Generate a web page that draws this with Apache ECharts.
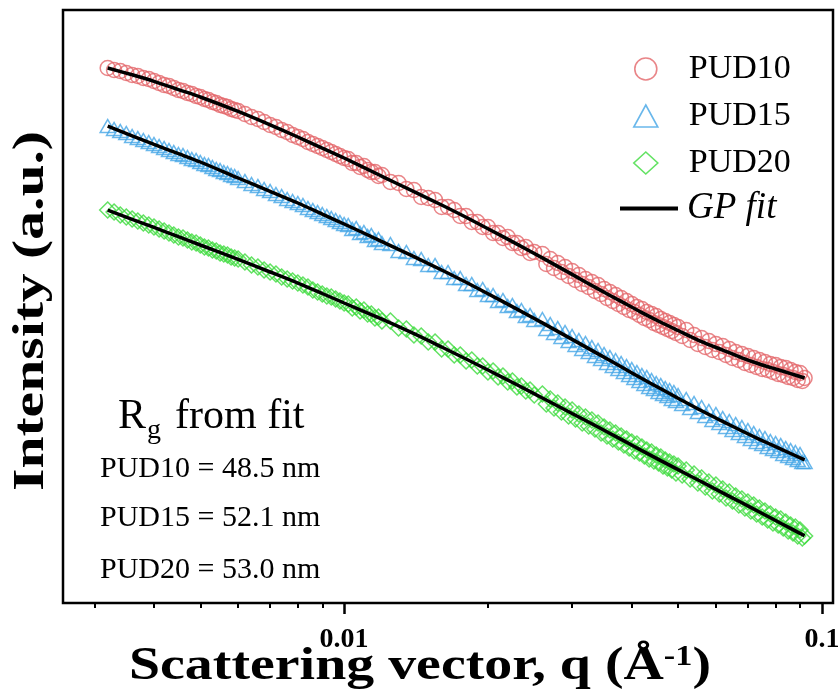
<!DOCTYPE html>
<html>
<head>
<meta charset="utf-8">
<script src="https://cdn.jsdelivr.net/npm/echarts@6/dist/echarts.min.js"></script>
<style>
  html, body { margin: 0; padding: 0; background: #fff; }
  #chart { width: 838px; height: 692px; }
</style>
</head>
<body>
<div id="chart"></div>
<script>
// q values (1/A), shared by the three measured curves
let qValues = [
  0.0032, 0.0033, 0.0034, 0.0035, 0.0036, 0.0037, 0.0038, 0.0039, 0.0040, 0.0041,
  0.0042, 0.0043, 0.0044, 0.0045, 0.0046, 0.0047, 0.0048, 0.0049, 0.0050, 0.0051,
  0.0052, 0.0053, 0.0054, 0.0055, 0.0056, 0.0057, 0.0058, 0.0059, 0.0060,
  0.0062, 0.0064, 0.0066, 0.0068, 0.0070, 0.0072, 0.0074, 0.0076, 0.0078, 0.0080,
  0.0082, 0.0084, 0.0086, 0.0088, 0.0090, 0.0092, 0.0094, 0.0096, 0.0098, 0.0100,
  0.0102, 0.0104, 0.0106, 0.0108, 0.0110, 0.0112, 0.0114, 0.0116, 0.0118, 0.0120,
  0.0125, 0.0130, 0.0135, 0.0140, 0.0145, 0.0150, 0.0155, 0.0160, 0.0165, 0.0170,
  0.0175, 0.0180, 0.0185, 0.0190, 0.0195, 0.0200, 0.0205, 0.0210, 0.0215, 0.0220,
  0.0225, 0.0230, 0.0235, 0.0240, 0.0245, 0.0250,
  0.0260, 0.0265, 0.0270, 0.0275, 0.0280, 0.0285, 0.0290, 0.0295, 0.0300, 0.0305,
  0.0310, 0.0315, 0.0320, 0.0325, 0.0330, 0.0335, 0.0340, 0.0345, 0.0350, 0.0355,
  0.0360, 0.0365, 0.0370, 0.0375, 0.0380, 0.0385, 0.0390, 0.0395, 0.0400, 0.0405,
  0.0410, 0.0415, 0.0420, 0.0425, 0.0430, 0.0435, 0.0440, 0.0445, 0.0450, 0.0455,
  0.0460, 0.0465, 0.0470, 0.0475, 0.0480, 0.0485, 0.0490, 0.0495, 0.0500,
  0.051, 0.052, 0.053, 0.054, 0.055, 0.056, 0.057, 0.058, 0.059, 0.060,
  0.061, 0.062, 0.063, 0.064, 0.065, 0.066, 0.067, 0.068, 0.069, 0.070,
  0.071, 0.072, 0.073, 0.074, 0.075, 0.076, 0.077, 0.078, 0.079, 0.080,
  0.081, 0.082, 0.083, 0.084, 0.085, 0.086, 0.087, 0.088, 0.089, 0.090,
  0.091, 0.092
];

// intensities, arbitrary units (vertically offset curves)
let pud10 = [
  535, 533, 532, 530, 528, 527, 525, 524, 522, 520,
  518, 517, 515, 513, 512, 510, 509, 507, 506, 504,
  503, 501, 500, 498, 497, 496, 494, 493, 492,
  489, 486, 484, 481, 478, 476, 473, 471, 468, 466,
  464, 461, 459, 457, 455, 453, 451, 449, 447, 445,
  444, 440, 440, 436, 437, 433, 431, 431, 427, 428,
  421, 420, 414, 413, 406, 405, 403, 396, 396, 393,
  387, 387, 381, 381, 376, 376, 370, 370, 365, 366,
  360, 360, 355, 356, 350, 351,
  349, 339, 344, 335, 340, 331, 336, 327, 332, 323,
  328, 319, 324, 316, 321, 312, 318, 309, 314, 305,
  311, 302, 308, 299, 305, 296, 302, 293, 299, 291,
  296, 288, 294, 285, 291, 283, 289, 280, 287, 278,
  284, 276, 282, 274, 280, 272, 278, 270, 276,
  267, 273, 263, 268, 259, 265, 256, 262, 253, 259,
  251, 257, 248, 254, 245, 251, 243, 249, 240, 247,
  238, 245, 236, 243, 234, 241, 233, 239, 231, 238,
  229, 236, 228, 235, 226, 233, 225, 231, 223, 230,
  222, 225
];
let pud15 = [
  477, 474, 472, 470, 467, 465, 463, 461, 459, 457,
  455, 453, 451, 449, 448, 446, 444, 443, 441, 439,
  438, 436, 434, 433, 431, 430, 428, 427, 425,
  422, 419, 417, 414, 412, 409, 407, 404, 402, 400,
  398, 395, 393, 391, 389, 387, 385, 383, 381, 379,
  378, 374, 375, 370, 371, 367, 368, 363, 364, 360,
  359, 352, 351, 345, 344, 338, 338, 331, 331, 325,
  325, 319, 319, 313, 314, 308, 308, 302, 303, 297,
  298, 292, 293, 287, 288, 283,
  284, 274, 279, 270, 275, 266, 271, 262, 267, 258,
  263, 254, 260, 251, 256, 247, 253, 244, 249, 240,
  246, 237, 243, 234, 240, 231, 237, 228, 234, 225,
  231, 222, 228, 219, 226, 216, 223, 214, 220, 211,
  218, 209, 215, 207, 213, 204, 211, 202, 208,
  199, 204, 195, 200, 191, 196, 187, 192, 183, 189,
  180, 185, 176, 182, 173, 179, 170, 176, 167, 173,
  164, 170, 161, 167, 159, 165, 156, 162, 154, 160,
  152, 158, 149, 155, 147, 153, 145, 151, 143, 149,
  141, 141
];
let pud20 = [
  393, 391, 388, 386, 384, 382, 380, 378, 376, 374,
  372, 370, 368, 366, 365, 363, 361, 360, 358, 356,
  355, 353, 352, 350, 349, 348, 346, 345, 344,
  341, 338, 336, 333, 331, 329, 326, 324, 322, 320,
  318, 316, 313, 311, 309, 307, 306, 304, 302, 300,
  299, 295, 296, 292, 293, 289, 289, 285, 286, 282,
  282, 275, 274, 268, 267, 261, 261, 254, 254, 248,
  248, 242, 243, 237, 237, 231, 232, 226, 227, 221,
  222, 216, 217, 212, 213, 208,
  209, 199, 204, 195, 200, 191, 196, 187, 193, 184,
  189, 180, 186, 177, 183, 174, 180, 170, 176, 167,
  173, 164, 170, 161, 167, 158, 164, 155, 161, 152,
  159, 150, 156, 147, 153, 144, 151, 142, 148, 140,
  146, 137, 143, 135, 141, 133, 139, 130, 137,
  128, 133, 124, 129, 120, 125, 116, 121, 112, 118,
  109, 114, 105, 111, 102, 107, 98, 104, 95, 101,
  92, 98, 89, 95, 86, 92, 83, 89, 80, 86,
  78, 84, 75, 81, 72, 78, 70, 76, 67, 73,
  65, 67
];

// GP fit curves
let fitQ = [
  0.0032, 0.0036, 0.0040, 0.0045, 0.0050, 0.0060, 0.0070, 0.0080, 0.0090, 0.0100,
  0.0120, 0.0140, 0.0160, 0.0180, 0.0200, 0.0230, 0.0260, 0.0300, 0.0340, 0.0380,
  0.0420, 0.0460, 0.0500, 0.0560, 0.0620, 0.0680, 0.0740, 0.0800, 0.0860, 0.0920
];
let fit10 = [
  535.0, 528.2, 521.7, 513.4, 506.0, 491.6, 478.2, 466.0, 454.9, 445.0,
  426.7, 411.3, 398.0, 385.7, 374.3, 358.9, 345.1, 328.6, 314.1, 301.6,
  290.4, 280.8, 272.5, 261.4, 252.9, 245.2, 239.0, 234.0, 229.4, 225.0
];
let fit15 = [
  476.8, 467.2, 458.6, 449.3, 441.0, 425.0, 411.6, 400.0, 388.9, 379.0,
  361.4, 346.3, 333.0, 320.7, 309.3, 293.9, 280.1, 263.6, 249.1, 236.2,
  224.5, 214.2, 204.8, 192.2, 181.6, 172.0, 163.7, 156.3, 149.5, 143.1
];
let fit20 = [
  392.9, 383.7, 375.6, 366.3, 358.0, 343.6, 331.0, 319.9, 309.5, 300.0,
  283.8, 269.3, 256.0, 244.0, 233.0, 218.2, 205.0, 189.5, 176.0, 163.6,
  152.4, 142.4, 133.4, 121.2, 110.1, 100.2, 91.0, 82.5, 74.6, 67.2
];

let majorTicks = [0.01, 0.1];
let minorTicks = [0.003, 0.004, 0.005, 0.006, 0.007, 0.008, 0.009,
                  0.02, 0.03, 0.04, 0.05, 0.06, 0.07, 0.08, 0.09];
let rgLines = ['PUD10 = 48.5 nm', 'PUD15 = 52.1 nm', 'PUD20 = 53.0 nm'];

let serif = 'Liberation Serif';
let RED = '#e4666a', BLUE = '#43a5e6', GREEN = '#3cdb3c';

let pairs = (xs, ys) => xs.map((x, i) => [x, ys[i]]);

let markerSeries = (name, symbol, size, color, ys) => ({
    name: name,
    type: 'scatter',
    xAxisIndex: 0,
    symbol: symbol,
    symbolSize: size,
    itemStyle: { color: 'rgba(0,0,0,0)', borderColor: color, borderWidth: 1.5 },
    data: pairs(qValues, ys),
    z: 2
});

let fitSeries = ys => ({
    name: 'GP fit',
    type: 'line',
    xAxisIndex: 0,
    smooth: 0.3,
    showSymbol: false,
    lineStyle: { color: '#000', width: 3.5 },
    itemStyle: { color: '#000' },
    data: pairs(fitQ, ys),
    z: 5
});

let xBase = {
    type: 'log',
    logBase: 10,
    min: 0.00258,
    max: 0.1055,
    gridIndex: 0,
    position: 'bottom',
    splitLine: { show: false },
    axisLine: { show: false, onZero: false }
};

let option = {
    animation: false,
    backgroundColor: '#fff',
    grid: {
        left: 63, right: 5, top: 10, bottom: 89,
        outerBoundsMode: 'none',
        containLabel: false,
        show: true,
        borderColor: '#000',
        borderWidth: 2.5,
        backgroundColor: 'transparent'
    },
    legend: [
        {
            orient: 'vertical',
            left: 628,
            top: 47,
            itemWidth: 24,
            itemHeight: 22,
            itemGap: 13,
            textStyle: { fontFamily: serif, fontSize: 34, color: '#000', padding: [0, 0, 0, 26] },
            data: [
                { name: 'PUD10', icon: 'circle', itemStyle: { color: 'rgba(0,0,0,0)', borderColor: RED, borderWidth: 1.6 } },
                { name: 'PUD15', icon: 'triangle', itemStyle: { color: 'rgba(0,0,0,0)', borderColor: BLUE, borderWidth: 1.6 } },
                { name: 'PUD20', icon: 'diamond', itemStyle: { color: 'rgba(0,0,0,0)', borderColor: GREEN, borderWidth: 1.6 } }
            ],
            selectedMode: false
        },
        {
            left: 615,
            top: 185,
            itemWidth: 58,
            itemHeight: 4,
            textStyle: { fontFamily: serif, fontSize: 37, fontStyle: 'italic', color: '#000', padding: [0, 0, 0, 4] },
            data: [{ name: 'GP fit', icon: 'rect', itemStyle: { color: '#000' } }],
            selectedMode: false
        }
    ],
    xAxis: [
        {
            ...xBase,
            axisTick: { show: true, length: 11, lineStyle: { color: '#000', width: 2.5 }, customValues: majorTicks },
            axisLabel: {
                show: true,
                margin: 23,
                fontFamily: serif, fontSize: 28, fontWeight: 'bold', color: '#000',
                customValues: majorTicks,
                formatter: v => String(+v.toPrecision(2))
            }
        },
        {
            ...xBase,
            axisTick: { show: true, length: 5, lineStyle: { color: '#000', width: 2 }, customValues: minorTicks },
            axisLabel: { show: false }
        }
    ],
    yAxis: {
        type: 'value',
        min: 0,
        max: 593,
        axisLine: { show: false },
        axisTick: { show: false },
        axisLabel: { show: false },
        splitLine: { show: false }
    },
    graphic: [
        // axis titles (stretched to the reference's wide bold serif)
        {
            type: 'text', x: 420, y: 667, scaleX: 1.27, scaleY: 1.06,
            style: {
                text: 'Scattering vector, q (Å{sup|-1})',
                font: 'bold 44px "Liberation Serif"', fill: '#000',
                align: 'center', verticalAlign: 'middle',
                rich: { sup: { font: 'bold 27px "Liberation Serif"', fill: '#000', verticalAlign: 'top' } }
            }
        },
        {
            type: 'text', x: 31, y: 311, rotation: Math.PI / 2, scaleX: 1.28,
            style: {
                text: 'Intensity (a.u.)',
                font: 'bold 45px "Liberation Serif"', fill: '#000',
                align: 'center', verticalAlign: 'middle'
            }
        },
        // fitted radii of gyration
        { type: 'text', left: 118, top: 396, style: { text: 'R', font: '42px "Liberation Serif"', fill: '#000' } },
        { type: 'text', left: 147, top: 417, style: { text: 'g', font: '28px "Liberation Serif"', fill: '#000' } },
        { type: 'text', left: 175, top: 396, style: { text: 'from fit', font: '42px "Liberation Serif"', fill: '#000' } },
        { type: 'text', left: 100, top: 454, style: { text: rgLines[0], font: '30px "Liberation Serif"', fill: '#000' } },
        { type: 'text', left: 100, top: 503, style: { text: rgLines[1], font: '30px "Liberation Serif"', fill: '#000' } },
        { type: 'text', left: 100, top: 555, style: { text: rgLines[2], font: '30px "Liberation Serif"', fill: '#000' } }
    ],
    series: [
        markerSeries('PUD10', 'circle', 15, RED, pud10),
        markerSeries('PUD15', 'triangle', [15, 13], BLUE, pud15),
        markerSeries('PUD20', 'diamond', 16, GREEN, pud20),
        fitSeries(fit10),
        fitSeries(fit15),
        fitSeries(fit20)
    ]
};

let myChart = echarts.init(document.getElementById('chart'));
myChart.setOption(option);
</script>
</body>
</html>
